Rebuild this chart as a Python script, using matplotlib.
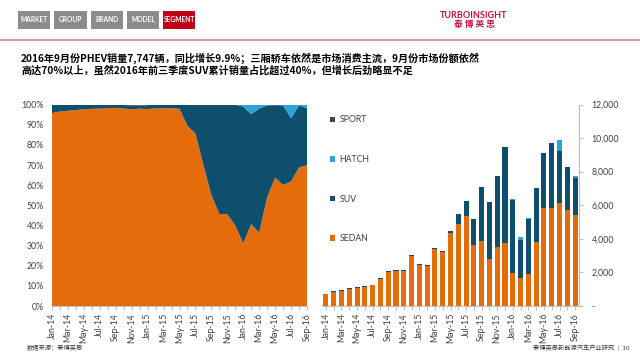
import numpy as np
import matplotlib
matplotlib.use("Agg")
import matplotlib.pyplot as plt
from matplotlib.patches import Rectangle
from matplotlib.lines import Line2D

plt.rcParams["font.family"] = ["Lato", "Noto Sans CJK SC", "DejaVu Sans"]

# 月份
months = ["Jan-14", "Feb-14", "Mar-14", "Apr-14", "May-14", "Jun-14", "Jul-14", "Aug-14",
          "Sep-14", "Oct-14", "Nov-14", "Dec-14", "Jan-15", "Feb-15", "Mar-15", "Apr-15",
          "May-15", "Jun-15", "Jul-15", "Aug-15", "Sep-15", "Oct-15", "Nov-15", "Dec-15",
          "Jan-16", "Feb-16", "Mar-16", "Apr-16", "May-16", "Jun-16", "Jul-16", "Aug-16",
          "Sep-16"]

# 各细分市场月销量（辆）
sedan = [690, 860, 902, 1022, 1085, 1146, 1245, 1622, 2047, 2080, 2110, 2990,
         2445, 2375, 3390, 3210, 4350, 4880, 5355, 3630, 3890, 2820, 3530, 3770,
         1985, 1665, 1920, 3790, 5830, 5850, 6110, 5710, 5415]
suv = [30, 30, 28, 28, 25, 24, 25, 28, 33, 38, 40, 45,
       50, 45, 60, 60, 90, 575, 895, 1550, 3170, 3350, 4205, 5670,
       4325, 2245, 3250, 3210, 3290, 3850, 3110, 2560, 2192]
hatch = [0, 0, 0, 0, 0, 0, 0, 0, 0, 0, 0, 0,
         0, 0, 0, 0, 0, 0, 0, 0, 0, 0, 0, 0,
         60, 190, 100, 20, 20, 30, 660, 20, 140]
sport = [0, 0, 0, 0, 0, 0, 0, 0, 0, 2, 10, 15,
         5, 0, 0, 0, 0, 0, 0, 0, 0, 0, 0, 0,
         0, 0, 0, 0, 0, 0, 0, 0, 0]

C_SEDAN = "#E46C0A"
C_SUV = "#0E4F6E"
C_HATCH = "#2DA3D8"
C_SPORT = "#3C4A3A"
GRAY = "#404040"

W, H = 640, 356
fig = plt.figure(figsize=(6.4, 3.56), dpi=100)


def fx(x):
    return x / W


def fy(y):
    return 1 - y / H


# 顶部导航按钮
buttons = [("MARKET", 18, 50), ("GROUP", 54, 87), ("BRAND", 91, 123),
           ("MODEL", 127, 159), ("SEGMENT", 163, 195)]
for name, x0, x1 in buttons:
    col = "#C0001A" if name == "SEGMENT" else "#8C8C8C"
    fig.add_artist(Rectangle((fx(x0), fy(29)), fx(x1 - x0), (29 - 11) / H,
                             transform=fig.transFigure, color=col, lw=0))
    fig.text(fx((x0 + x1) / 2), fy(20), name, color="white", fontsize=4.8,
             fontweight="bold", ha="center", va="center")

fig.text(fx(474), fy(15), "TURBOINSIGHT", color="#C0143C", fontsize=6.5,
         fontweight="bold", ha="center", va="center")
fig.text(fx(474), fy(25), "泰 博 英 思", color="#C0143C", fontsize=6.3,
         fontweight="bold", ha="center", va="center", family=["Noto Sans CJK SC"])
fig.add_artist(Line2D([0, 1], [fy(39.5), fy(39.5)], transform=fig.transFigure,
                      color="#C48B96", lw=1.2))

# 标题
fig.text(fx(21), fy(58), "2016年9月份PHEV销量7,747辆，同比增长9.9%；三厢轿车依然是市场消费主流，9月份市场份额依然",
         fontsize=7.3, fontweight="bold", va="center", family=["Noto Sans CJK SC"])
fig.text(fx(21), fy(70), "高达70%以上，虽然2016年前三季度SUV累计销量占比超过40%，但增长后劲略显不足",
         fontsize=7.3, fontweight="bold", va="center", family=["Noto Sans CJK SC"])

x = np.arange(len(months))
sedan_a = np.array(sedan, float)
suv_a = np.array(suv, float)
hatch_a = np.array(hatch, float)
sport_a = np.array(sport, float)
total = sedan_a + suv_a + hatch_a + sport_a

# 左图：份额堆积面积图
ax1 = fig.add_axes([fx(52), fy(306), fx(307 - 52), (306 - 104.7) / H])
ax1.stackplot(x, sedan_a / total * 100, suv_a / total * 100, hatch_a / total * 100,
              sport_a / total * 100, colors=[C_SEDAN, C_SUV, C_HATCH, C_SPORT], lw=0)
ax1.set_xlim(0, len(months) - 1)
ax1.set_ylim(0, 100)
ax1.set_yticks(range(0, 101, 10))
ax1.set_yticklabels([f"{v}%" for v in range(0, 101, 10)])
ax1.tick_params(axis="y", length=0, labelsize=6.3, labelcolor=GRAY, pad=6)
for s in ["top", "right", "left"]:
    ax1.spines[s].set_visible(False)
ax1.spines["bottom"].set_color("#BFBFBF")

# 右图：销量堆积柱状图
ax2 = fig.add_axes([fx(322), fy(306), fx(579 - 322), (306 - 104.5) / H])
bw = 0.65
ax2.bar(x, sedan_a, bw, color=C_SEDAN, label="SEDAN")
ax2.bar(x, suv_a, bw, bottom=sedan_a, color=C_SUV, label="SUV")
ax2.bar(x, hatch_a, bw, bottom=sedan_a + suv_a, color=C_HATCH, label="HATCH")
ax2.bar(x, sport_a, bw, bottom=sedan_a + suv_a + hatch_a, color=C_SPORT, label="SPORT")
ax2.set_xlim(-0.5, len(months) - 0.5)
ax2.set_ylim(0, 12000)
ax2.yaxis.tick_right()
yt = list(range(0, 12001, 2000))
ax2.set_yticks(yt)
ax2.set_yticklabels(["-"] + [f"{v:,}" for v in yt[1:]])
ax2.tick_params(axis="y", labelsize=6.3, labelcolor=GRAY, color="#BFBFBF", length=3, pad=6)
for s in ["top", "left"]:
    ax2.spines[s].set_visible(False)
ax2.spines["right"].set_color("#BFBFBF")
ax2.spines["bottom"].set_color("#BFBFBF")

h, l = ax2.get_legend_handles_labels()
ax2.legend(h[::-1], l[::-1], loc="upper left", bbox_to_anchor=(0.0, 0.985), frameon=False,
           fontsize=6.3, labelspacing=3.5, handlelength=0.6, handleheight=0.6,
           handletextpad=0.5, labelcolor=GRAY)

for ax in (ax1, ax2):
    ax.set_xticks(x)
    ax.set_xticklabels([m if i % 2 == 0 else "" for i, m in enumerate(months)], rotation=90)
    ax.tick_params(axis="x", labelsize=6.3, labelcolor=GRAY, color="#BFBFBF", length=3, pad=2)
    ax.patch.set_visible(False)

# 页脚
fig.text(fx(27), fy(348), "数据来源：泰博英思", fontsize=4.5, color=GRAY, va="center")
fig.text(fx(630), fy(348), "泰博英思新能源汽车产业研究  |  10", fontsize=4.5, color=GRAY,
         va="center", ha="right")

fig.savefig("out.png", dpi=100)
